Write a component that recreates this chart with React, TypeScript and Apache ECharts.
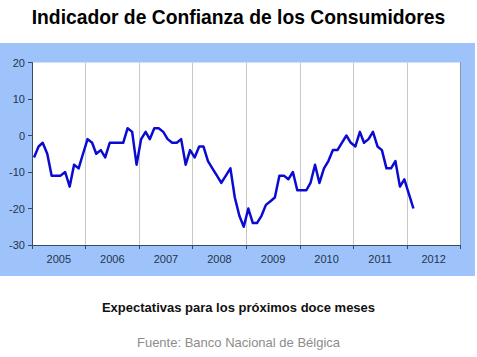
import React, { useEffect, useRef } from "react";
import * as echarts from "echarts";

const years = ["2005", "2006", "2007", "2008", "2009", "2010", "2011", "2012"];
const startYear = 2005;
const values = [
  // 2005
  -6, -3, -2, -5, -11, -11, -11, -10, -14, -8, -9, -5,
  // 2006
  -1, -2, -5, -4, -6, -2, -2, -2, -2, 2, 1, -8,
  // 2007
  -1, 1, -1, 2, 2, 1, -1, -2, -2, -1, -8, -4,
  // 2008
  -6, -3, -3, -7, -9, -11, -13, -11, -9, -17, -22, -25,
  // 2009
  -20, -24, -24, -22, -19, -18, -17, -11, -11, -12, -10, -15,
  // 2010
  -15, -15, -13, -8, -13, -9, -7, -4, -4, -2, 0, -2,
  // 2011
  -3, 1, -2, -1, 1, -3, -4, -9, -9, -7, -14, -12,
  // 2012
  -16, -20,
];
const yTicks = { min: -30, max: 20, interval: 10 };
const titleText = "Indicador de Confianza de los Consumidores";
const subtitleText = "Expectativas para los próximos doce meses";
const sourceText = "Fuente: Banco Nacional de Bélgica";

const FONT = "'Liberation Sans', Arial, sans-serif";

export default function App() {
  const ref = useRef<HTMLDivElement>(null);
  useEffect(() => {
    if (!ref.current) return;
    const chart = echarts.init(ref.current, null, { renderer: "svg" });
    const data = values.map((v, i) => [
      new Date(startYear, i, 15).getTime(),
      v,
    ]);
    chart.setOption({
      animation: false,
      backgroundColor: "#ffffff",
      textStyle: { fontFamily: FONT },
      title: [
        {
          text: titleText,
          left: "center",
          top: 3,
          textStyle: { fontFamily: FONT, fontSize: 19.3, fontWeight: "bold", color: "#000" },
        },
        {
          text: subtitleText,
          left: "center",
          top: 296,
          textStyle: { fontFamily: FONT, fontSize: 13, fontWeight: "bold", color: "#111" },
        },
        {
          text: sourceText,
          left: "center",
          top: 331,
          textStyle: { fontFamily: FONT, fontSize: 13, fontWeight: "normal", color: "#8c8c8c" },
        },
      ],
      graphic: [
        {
          type: "rect",
          z: -100,
          shape: { x: 0, y: 43, width: 475, height: 233 },
          style: { fill: "#9dc3fa" },
          silent: true,
        },
      ],
      grid: {
        left: 32,
        right: 16.5,
        top: 62.5,
        bottom: 112,
        show: true,
        backgroundColor: "#ffffff",
        borderWidth: 0,
      },
      xAxis: [
        {
          type: "category",
          data: years,
          boundaryGap: true,
          axisLine: { show: true, onZero: false, lineStyle: { color: "#3a4a63", width: 1 } },
          axisTick: { show: true, interval: 0, length: 4, lineStyle: { color: "#3a4a63" } },
          axisLabel: { fontSize: 11, color: "#26334d", margin: 8, fontFamily: FONT },
          splitLine: { show: true, interval: 0, lineStyle: { color: "#c8c8c8", width: 1 } },
        },
        {
          type: "time",
          min: new Date(startYear, 0, 1).getTime(),
          max: new Date(startYear + years.length, 0, 1).getTime(),
          show: false,
          axisLine: { show: false, onZero: false },
          splitLine: { show: false },
        },
      ],
      yAxis: [
        {
          type: "value",
          min: yTicks.min,
          max: yTicks.max,
          interval: yTicks.interval,
          axisLine: { show: true, onZero: false, lineStyle: { color: "#3a4a63", width: 1 } },
          axisTick: { show: true, length: 4, lineStyle: { color: "#3a4a63" } },
          axisLabel: { fontSize: 11, color: "#26334d", margin: 7, fontFamily: FONT },
          splitLine: { show: false },
        },
        {
          type: "value",
          position: "right",
          min: yTicks.min,
          max: yTicks.max,
          interval: yTicks.interval,
          axisLine: { show: true, onZero: false, lineStyle: { color: "#8a96a8", width: 1 } },
          axisTick: { show: false },
          axisLabel: { show: false },
          splitLine: { show: false },
        },
      ],
      series: [
        {
          type: "line",
          xAxisIndex: 1,
          yAxisIndex: 0,
          data,
          showSymbol: false,
          symbol: "none",
          lineStyle: { color: "#0a0ad2", width: 2.5, join: "round" },
          z: 5,
        },
      ],
    });
    return () => chart.dispose();
  }, []);
  return (
    <div
      ref={ref}
      style={{ position: "absolute", left: 0, top: 0, width: 477, height: 357 }}
    />
  );
}
